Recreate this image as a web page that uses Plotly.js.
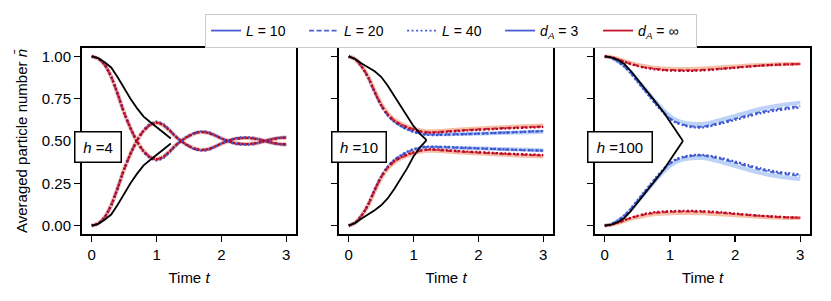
<!DOCTYPE html>
<html>
<head>
<meta charset="utf-8">
<script src="https://cdn.plot.ly/plotly-3.0.1.min.js"></script>
<style>body{margin:0;padding:0;background:#fff}#chart{width:831px;height:301px}</style>
</head>
<body>
<div id="chart"></div>
<script>
// ---------------- data ----------------
const panelLabels = ['<i>h</i> =4', '<i>h</i> =10', '<i>h</i> =100'];
const xTicks = [0, 1, 2, 3];
const yTicks = [0, 0.25, 0.5, 0.75, 1.0];
const yTickText = ['0.00', '0.25', '0.50', '0.75', '1.00'];
const legendNames = ['<i>L</i> = 10', '<i>L</i> = 20', '<i>L</i> = 40', '<i>d<sub>A</sub></i> = 3', '<i>d<sub>A</sub></i> = ∞'];

// time grids
const T1 = [0,0.1,0.2,0.3,0.4,0.5,0.6,0.7,0.8,0.9,1.0,1.1,1.2,1.3,1.4,1.5,1.6,1.7,1.8,1.9,2.0,2.1,2.2,2.3,2.4,2.5,2.6,2.7,2.8,2.9,3.0];
const T2 = [0,0.1,0.2,0.3,0.4,0.5,0.6,0.7,0.8,0.9,1.0,1.1,1.2,1.3,1.4,1.5,1.6,1.8,2.0,2.2,2.4,2.6,2.8,3.0];

// panel h = 4
const h4_up = [1.000,0.988,0.950,0.880,0.778,0.667,0.574,0.497,0.440,0.405,0.392,0.405,0.438,0.476,0.506,0.530,0.547,0.553,0.548,0.533,0.515,0.500,0.488,0.483,0.482,0.485,0.493,0.503,0.512,0.518,0.520];
const h4_lo = [0.000,0.012,0.050,0.120,0.222,0.333,0.426,0.503,0.560,0.595,0.608,0.595,0.562,0.524,0.494,0.470,0.453,0.447,0.452,0.467,0.485,0.500,0.512,0.517,0.518,0.515,0.507,0.497,0.488,0.482,0.480];
const h4_up_d3L40 = [1.000,0.988,0.950,0.880,0.778,0.667,0.574,0.495,0.436,0.400,0.386,0.399,0.434,0.474,0.506,0.532,0.550,0.557,0.552,0.535,0.515,0.499,0.485,0.479,0.478,0.482,0.492,0.504,0.514,0.520,0.522];
const h4_lo_d3L40 = [0.000,0.012,0.050,0.120,0.222,0.333,0.426,0.505,0.564,0.600,0.614,0.601,0.566,0.526,0.494,0.468,0.450,0.443,0.448,0.465,0.485,0.501,0.515,0.521,0.522,0.518,0.508,0.496,0.486,0.480,0.478];
const bk1_t = [0,0.1,0.2,0.3,0.4,0.5,0.6,0.7,0.8,0.9,1.0,1.1,1.22];
const bk1_up = [1.000,0.990,0.966,0.935,0.877,0.812,0.748,0.693,0.644,0.612,0.584,0.552,0.515];
const bk1_lo = [0.000,0.010,0.034,0.065,0.123,0.188,0.252,0.307,0.356,0.388,0.416,0.448,0.485];

// panel h = 10
const h10_up_inf10 = [1.000,0.984,0.942,0.880,0.797,0.720,0.664,0.628,0.604,0.587,0.573,0.564,0.558,0.558,0.559,0.562,0.565,0.570,0.574,0.578,0.582,0.586,0.589,0.592];
const h10_up_inf20 = [1.000,0.983,0.940,0.877,0.792,0.715,0.659,0.623,0.600,0.583,0.569,0.559,0.553,0.552,0.554,0.557,0.560,0.565,0.569,0.573,0.577,0.580,0.583,0.586];
const h10_up_inf40 = [1.000,0.983,0.940,0.876,0.790,0.713,0.657,0.621,0.597,0.580,0.566,0.556,0.550,0.549,0.551,0.554,0.557,0.562,0.566,0.570,0.574,0.577,0.580,0.583];
const h10_lo_inf10 = [0.000,0.016,0.058,0.120,0.203,0.280,0.336,0.372,0.396,0.413,0.427,0.436,0.442,0.442,0.441,0.438,0.435,0.430,0.426,0.422,0.418,0.414,0.411,0.408];
const h10_lo_inf20 = [0.000,0.017,0.060,0.123,0.208,0.285,0.341,0.377,0.400,0.417,0.431,0.441,0.447,0.448,0.446,0.443,0.440,0.435,0.431,0.427,0.423,0.420,0.417,0.414];
const h10_lo_inf40 = [0.000,0.017,0.060,0.124,0.210,0.287,0.343,0.379,0.403,0.420,0.434,0.444,0.450,0.451,0.449,0.446,0.443,0.438,0.434,0.430,0.426,0.423,0.420,0.417];
const h10_up_d3L10 = [1.000,0.984,0.941,0.878,0.793,0.716,0.659,0.621,0.595,0.576,0.561,0.550,0.544,0.541,0.540,0.540,0.541,0.542,0.544,0.546,0.548,0.550,0.552,0.554];
const h10_up_d3L20 = [1.000,0.983,0.940,0.876,0.789,0.711,0.654,0.616,0.590,0.571,0.556,0.546,0.540,0.538,0.538,0.539,0.540,0.542,0.544,0.547,0.550,0.553,0.556,0.558];
const h10_up_d3L40 = [1.000,0.983,0.940,0.875,0.788,0.710,0.652,0.614,0.588,0.569,0.553,0.543,0.537,0.535,0.536,0.537,0.538,0.540,0.543,0.546,0.549,0.552,0.556,0.559];
const h10_lo_d3L10 = [0.000,0.016,0.059,0.122,0.207,0.284,0.341,0.380,0.406,0.427,0.443,0.453,0.458,0.460,0.460,0.460,0.459,0.458,0.456,0.454,0.452,0.450,0.448,0.446];
const h10_lo_d3L20 = [0.000,0.017,0.060,0.124,0.211,0.289,0.346,0.386,0.412,0.433,0.449,0.459,0.464,0.465,0.464,0.463,0.461,0.458,0.456,0.453,0.450,0.447,0.445,0.443];
const h10_lo_d3L40 = [0.000,0.017,0.060,0.125,0.212,0.290,0.348,0.388,0.415,0.436,0.452,0.462,0.467,0.467,0.466,0.465,0.463,0.460,0.457,0.454,0.451,0.448,0.445,0.443];
const bk2_t = [0,0.1,0.2,0.3,0.4,0.5,0.6,0.7,0.8,0.9,1.0,1.1,1.2];
const bk2_up = [1.000,0.985,0.958,0.934,0.912,0.880,0.828,0.768,0.707,0.648,0.588,0.542,0.505];
const bk2_lo = [0.000,0.016,0.042,0.066,0.090,0.120,0.160,0.215,0.277,0.338,0.410,0.462,0.505];

// panel h = 100
const h100_up_inf10 = [1.000,0.996,0.986,0.973,0.961,0.951,0.943,0.937,0.932,0.929,0.927,0.926,0.926,0.926,0.927,0.929,0.931,0.936,0.941,0.946,0.950,0.953,0.956,0.957];
const h100_up_inf20 = [1.000,0.995,0.984,0.970,0.957,0.946,0.937,0.931,0.926,0.922,0.920,0.919,0.918,0.918,0.919,0.921,0.923,0.929,0.935,0.941,0.947,0.951,0.954,0.956];
const h100_up_inf40 = [1.000,0.995,0.983,0.968,0.955,0.944,0.935,0.928,0.923,0.919,0.917,0.916,0.915,0.915,0.916,0.918,0.920,0.926,0.933,0.940,0.946,0.950,0.953,0.955];
const h100_lo_inf10 = [0.000,0.004,0.014,0.027,0.039,0.049,0.057,0.063,0.068,0.071,0.073,0.074,0.074,0.074,0.073,0.072,0.070,0.066,0.061,0.056,0.051,0.047,0.045,0.044];
const h100_lo_inf20 = [0.000,0.005,0.016,0.030,0.044,0.055,0.064,0.071,0.076,0.079,0.081,0.082,0.083,0.083,0.082,0.081,0.079,0.074,0.068,0.062,0.056,0.051,0.048,0.046];
const h100_lo_inf40 = [0.000,0.005,0.017,0.032,0.046,0.058,0.068,0.075,0.080,0.083,0.085,0.086,0.087,0.087,0.086,0.085,0.083,0.078,0.071,0.064,0.058,0.053,0.049,0.047];
const h100_up_d3L10 = [1.000,0.993,0.973,0.945,0.907,0.861,0.815,0.769,0.724,0.683,0.647,0.624,0.610,0.603,0.600,0.601,0.607,0.627,0.649,0.671,0.691,0.706,0.718,0.727];
const h100_up_d3L20 = [1.000,0.992,0.971,0.942,0.903,0.855,0.808,0.761,0.714,0.672,0.635,0.612,0.598,0.589,0.585,0.585,0.592,0.611,0.632,0.653,0.672,0.687,0.698,0.706];
const h100_up_d3L40 = [1.000,0.992,0.970,0.940,0.900,0.851,0.804,0.757,0.709,0.667,0.630,0.607,0.594,0.584,0.580,0.580,0.587,0.605,0.625,0.646,0.665,0.679,0.690,0.699];
const h100_lo_d3L10 = [0.000,0.007,0.027,0.055,0.093,0.139,0.185,0.231,0.276,0.317,0.353,0.376,0.390,0.397,0.400,0.399,0.393,0.374,0.352,0.330,0.310,0.294,0.283,0.275];
const h100_lo_d3L20 = [0.000,0.008,0.029,0.058,0.097,0.145,0.192,0.239,0.286,0.328,0.365,0.388,0.402,0.410,0.414,0.414,0.408,0.392,0.371,0.350,0.330,0.314,0.302,0.294];
const h100_lo_d3L40 = [0.000,0.008,0.030,0.060,0.100,0.149,0.196,0.243,0.291,0.333,0.370,0.393,0.406,0.414,0.418,0.418,0.413,0.398,0.378,0.357,0.337,0.321,0.310,0.302];
const bk3_t = [0,0.1,0.2,0.3,0.4,0.5,0.6,0.7,0.8,0.9,1.2];
const bk3_up = [1.000,0.995,0.980,0.955,0.914,0.864,0.815,0.766,0.721,0.672,0.500];
const bk3_lo = [0.000,0.005,0.020,0.045,0.086,0.136,0.185,0.234,0.279,0.328,0.500];

// ---------------- styles ----------------
const FONT = 'Liberation Sans, Arial, Helvetica, sans-serif';
const BLUE = '#4a5ed4', RED = '#c4122f';
const sty = {
  b10: {color: '#bcd2f6', width: 4, dash: 'solid'},
  r10: {color: '#f6c0a8', width: 4, dash: 'solid'},
  b20: {color: '#4f6ddc', width: 2, dash: '5px,2.5px'},
  r20: {color: '#d42a3a', width: 2, dash: '5px,2.5px'},
  b40: {color: '#3b52cc', width: 2.3, dash: '2px,2.2px'},
  r40: {color: '#b40426', width: 2.3, dash: '2px,2.2px'},
  bk:  {color: '#000000', width: 1.8, dash: 'solid'}
};

const traces = [];
function add(ax, x, y, s, shape) {
  traces.push({
    type: 'scatter', mode: 'lines', x: x, y: y,
    xaxis: 'x' + (ax === 1 ? '' : ax), yaxis: 'y' + (ax === 1 ? '' : ax),
    line: {color: s.color, width: s.width, dash: s.dash, shape: shape || 'spline', smoothing: 0.8},
    showlegend: false, hoverinfo: 'skip'
  });
}
function panel(ax, t, sets, bt, bu, bl) {
  const keys = ['b10','r10','b20','r20','b40','r40'];
  keys.forEach((k, i) => { add(ax, t, sets[2*i], sty[k]); add(ax, t, sets[2*i+1], sty[k]); });
  add(ax, bt, bu, sty.bk, 'linear');
  add(ax, bt, bl, sty.bk, 'linear');
}
panel(1, T1, [h4_up,h4_lo, h4_up,h4_lo, h4_up,h4_lo, h4_up,h4_lo, h4_up_d3L40,h4_lo_d3L40, h4_up,h4_lo], bk1_t, bk1_up, bk1_lo);
panel(2, T2, [h10_up_d3L10,h10_lo_d3L10, h10_up_inf10,h10_lo_inf10, h10_up_d3L20,h10_lo_d3L20, h10_up_inf20,h10_lo_inf20, h10_up_d3L40,h10_lo_d3L40, h10_up_inf40,h10_lo_inf40], bk2_t, bk2_up, bk2_lo);
panel(3, T2, [h100_up_d3L10,h100_lo_d3L10, h100_up_inf10,h100_lo_inf10, h100_up_d3L20,h100_lo_d3L20, h100_up_inf20,h100_lo_inf20, h100_up_d3L40,h100_lo_d3L40, h100_up_inf40,h100_lo_inf40], bk3_t, bk3_up, bk3_lo);

// legend entries
const legStyles = [
  {color: BLUE, dash: 'solid'}, {color: BLUE, dash: '5px,2.5px'}, {color: BLUE, dash: '2px,2.5px'},
  {color: BLUE, dash: 'solid'}, {color: RED, dash: 'solid'}
];
legendNames.forEach((n, i) => {
  traces.push({type: 'scatter', mode: 'lines', x: [null], y: [null], name: n,
    line: {color: legStyles[i].color, width: 1.8, dash: legStyles[i].dash}, showlegend: true});
});

// ---------------- layout ----------------
const PW = 728;
const doms = [[0, 214/PW], [257/PW, 471/PW], [513/PW, 1]];
const axBase = {
  showline: true, mirror: true, linecolor: '#000', linewidth: 2,
  ticks: 'outside', ticklen: 6, tickwidth: 1.2, tickcolor: '#000',
  showgrid: false, zeroline: false, tickfont: {family: FONT, size: 15, color: '#000'}
};
const layout = {
  width: 831, height: 301,
  margin: {l: 82, r: 21, t: 48, b: 67},
  paper_bgcolor: '#fff', plot_bgcolor: '#fff',
  font: {family: FONT, size: 15, color: '#000'},
  showlegend: true,
  legend: {orientation: 'h', x: 0.507, xanchor: 'center', y: 1.183, yanchor: 'top',
    entrywidth: 53, entrywidthmode: 'pixels',
    bordercolor: '#cccccc', borderwidth: 1, bgcolor: '#fff',
    font: {family: FONT, size: 14, color: '#000'}},
  annotations: []
};
for (let i = 0; i < 3; i++) {
  const s = i === 0 ? '' : String(i + 1);
  layout['xaxis' + s] = Object.assign({}, axBase, {
    domain: doms[i], range: [-0.15, 3.15], tickvals: xTicks, anchor: 'y' + s,
    title: {text: 'Time <i>t</i>', font: {family: FONT, size: 15, color: '#000'}, standoff: 10}
  });
  const ya = Object.assign({}, axBase, {
    domain: [0, 1], range: [-0.05, 1.05], tickvals: yTicks, ticktext: yTickText,
    anchor: 'x' + s, showticklabels: i === 0
  });
  if (i === 0) ya.title = {text: 'Averaged particle number <i>n\u0304</i>', font: {family: FONT, size: 15, color: '#000'}, standoff: 11};
  layout['yaxis' + s] = ya;
  const w = [48, 56, 66][i];
  layout.annotations.push({
    xref: 'x' + s + ' domain', yref: 'y' + s + ' domain',
    x: -8/214, y: 0.468, xanchor: 'left', yanchor: 'middle',
    text: panelLabels[i], showarrow: false, align: 'center',
    font: {family: FONT, size: 15, color: '#000'},
    bgcolor: '#fff', bordercolor: '#000', borderwidth: 1.5, borderpad: 1,
    width: w - 5, height: 27
  });
}
Plotly.newPlot('chart', traces, layout, {staticPlot: true, displayModeBar: false});
</script>
</body>
</html>
